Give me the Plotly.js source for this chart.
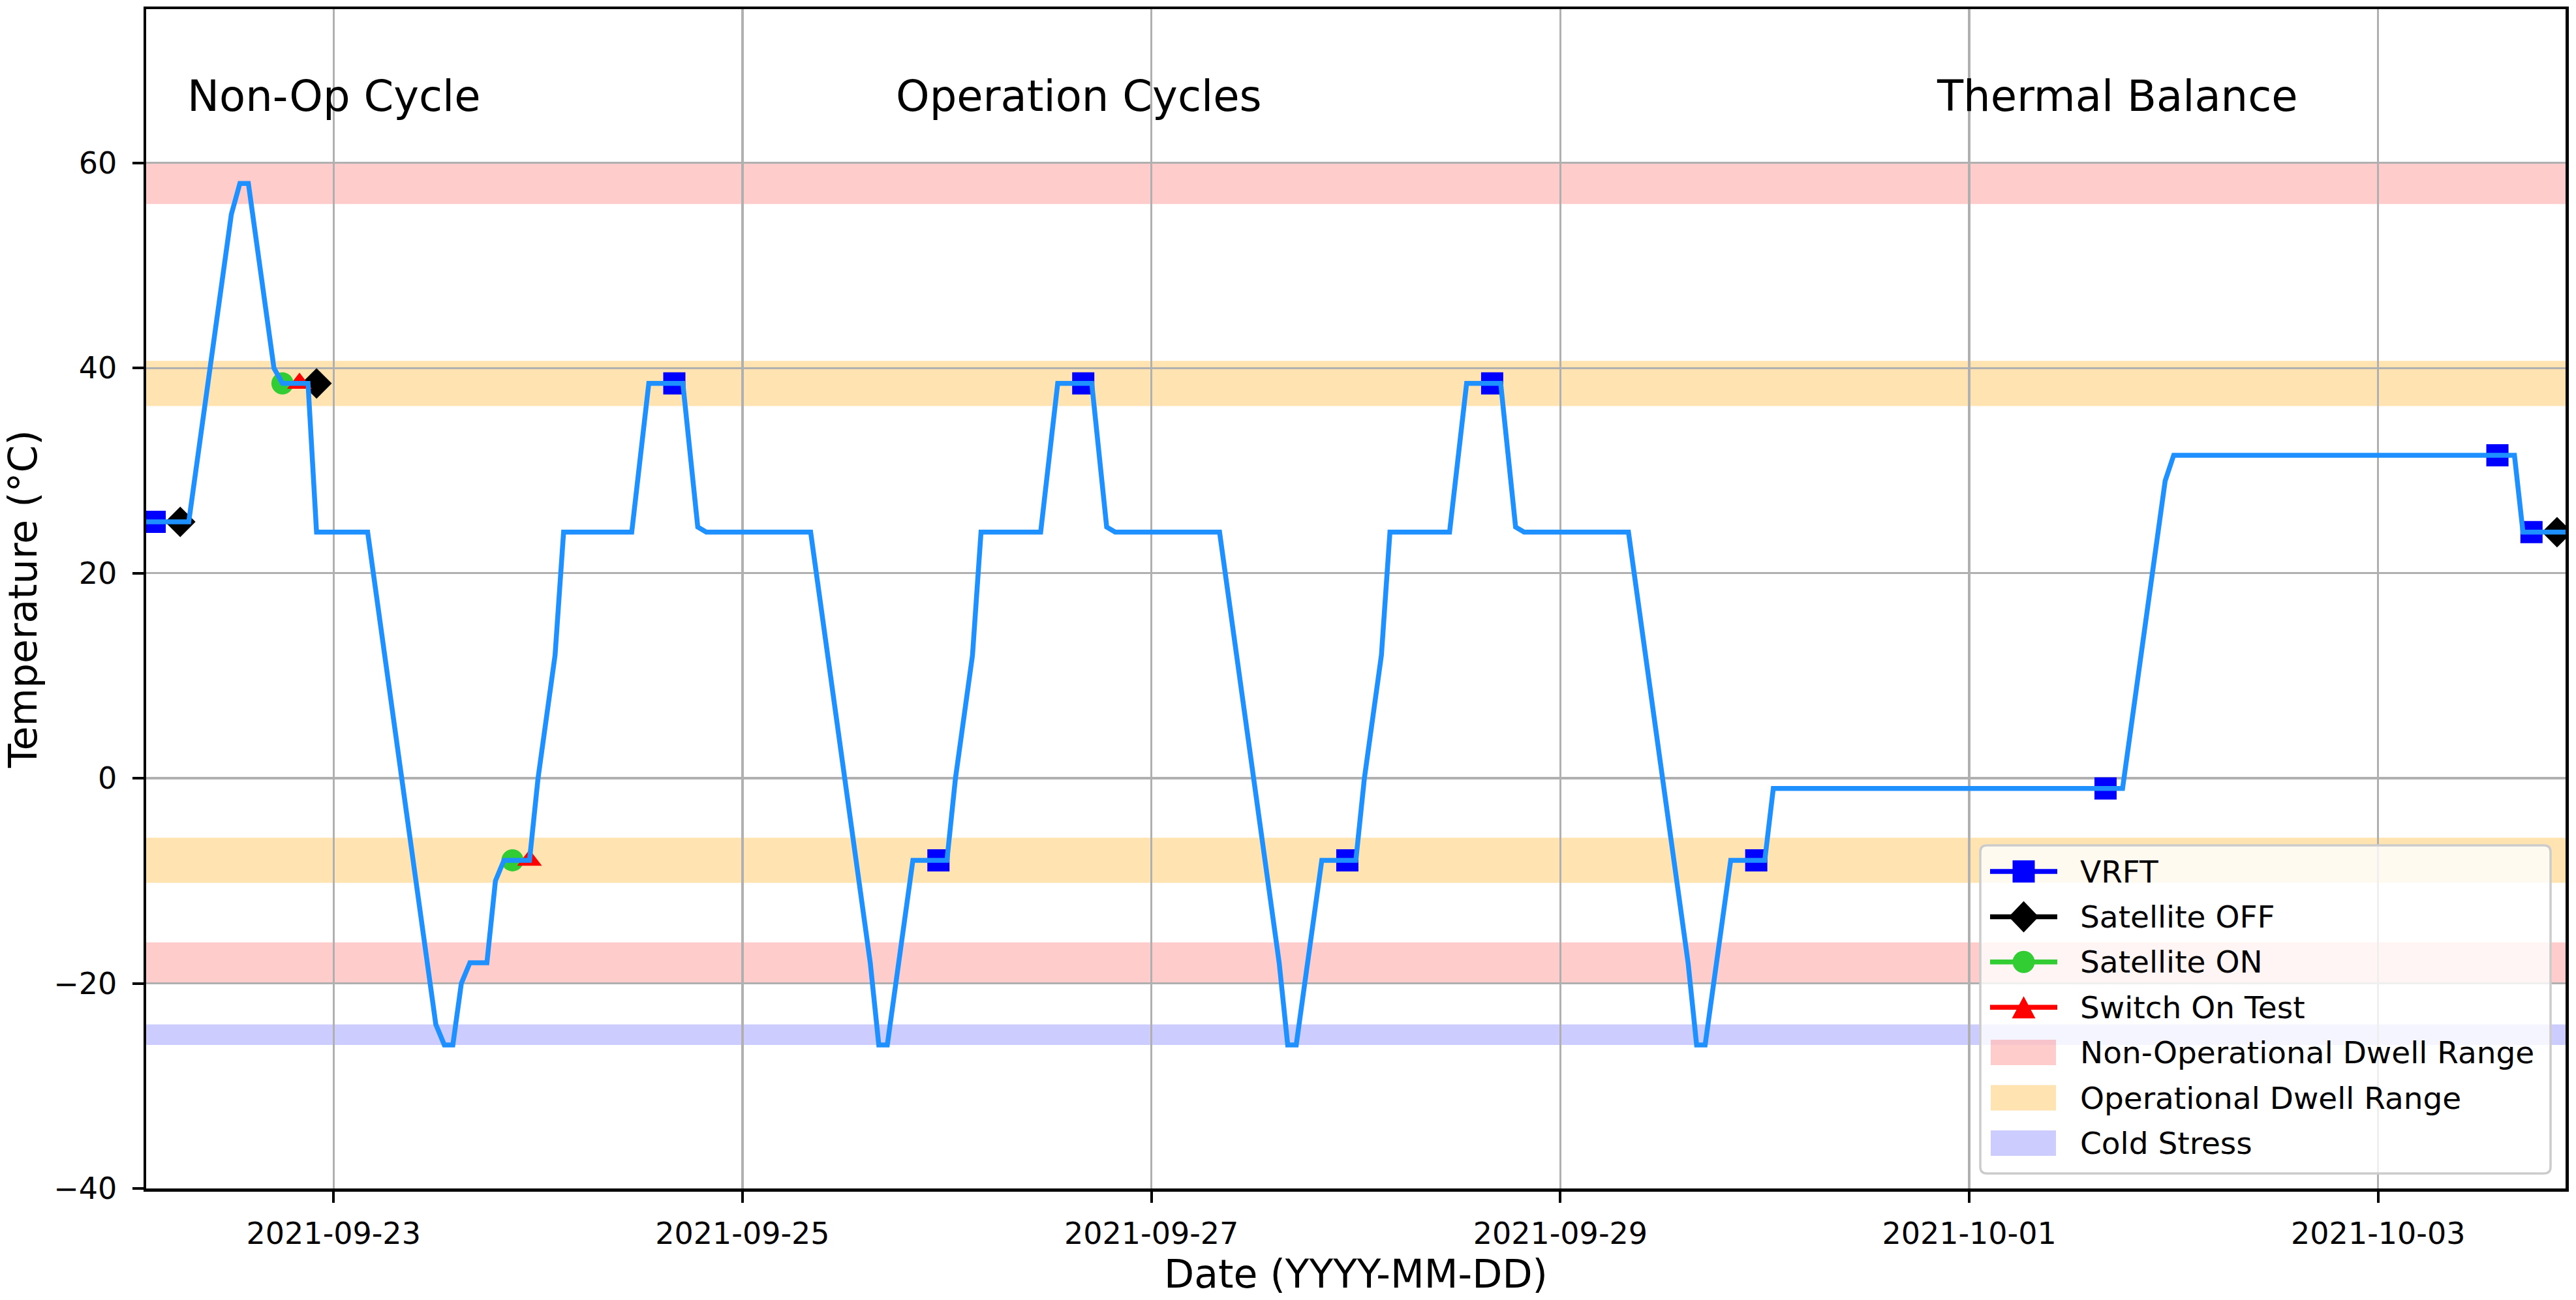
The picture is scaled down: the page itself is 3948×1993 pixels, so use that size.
<!DOCTYPE html>
<html>
<head>
<meta charset="utf-8">
<script src="https://cdn.plot.ly/plotly-3.0.1.min.js"></script>
<style>html,body{margin:0;padding:0;background:#fff;}#chart{width:3948px;height:1993px;}</style>
</head>
<body>
<div id="chart"></div>
<script>
// ---------- DATA ----------
const tempTimes = [
  '2021-09-22 02:00','2021-09-22 07:00','2021-09-22 12:00','2021-09-22 13:00','2021-09-22 14:00',
  '2021-09-22 17:00','2021-09-22 18:00','2021-09-22 21:00','2021-09-22 22:00','2021-09-23 04:00',
  '2021-09-23 12:00','2021-09-23 13:00','2021-09-23 14:00','2021-09-23 15:00','2021-09-23 16:00',
  '2021-09-23 18:00','2021-09-23 19:00','2021-09-23 20:00','2021-09-23 23:00','2021-09-24 00:00',
  '2021-09-24 02:00','2021-09-24 03:00','2021-09-24 11:00','2021-09-24 13:00','2021-09-24 17:00',
  '2021-09-24 18:45','2021-09-24 19:45','2021-09-25 08:00','2021-09-25 15:00','2021-09-25 16:00',
  '2021-09-25 17:00','2021-09-25 20:00','2021-09-26 00:00','2021-09-26 01:00','2021-09-26 03:00',
  '2021-09-26 04:00','2021-09-26 11:00','2021-09-26 13:00','2021-09-26 17:00','2021-09-26 18:45',
  '2021-09-26 19:45','2021-09-27 08:00','2021-09-27 15:00','2021-09-27 16:00','2021-09-27 17:00',
  '2021-09-27 20:00','2021-09-28 00:00','2021-09-28 01:00','2021-09-28 03:00','2021-09-28 04:00',
  '2021-09-28 11:00','2021-09-28 13:00','2021-09-28 17:00','2021-09-28 18:45','2021-09-28 19:45',
  '2021-09-29 08:00','2021-09-29 15:00','2021-09-29 16:00','2021-09-29 17:00','2021-09-29 20:00',
  '2021-09-30 00:00','2021-09-30 01:00','2021-10-01 18:00','2021-10-01 23:00','2021-10-02 00:00',
  '2021-10-03 16:00','2021-10-03 17:00','2021-10-03 22:00'
];
const tempValues = [
  25, 25, 55, 58, 58,
  40, 38.5, 38.5, 24, 24,
  -24, -26, -26, -20, -18,
  -18, -10, -8, -8, 0,
  12, 24, 24, 38.5, 38.5,
  24.5, 24, 24, -18, -26,
  -26, -8, -8, 0, 12,
  24, 24, 38.5, 38.5, 24.5,
  24, 24, -18, -26, -26,
  -8, -8, 0, 12, 24,
  24, 38.5, 38.5, 24.5, 24,
  24, -18, -26, -26, -8,
  -8, -1, -1, 29, 31.5,
  31.5, 24, 24
];

const vrftTimes = ['2021-09-22 03:00','2021-09-24 16:00','2021-09-25 23:00','2021-09-26 16:00','2021-09-27 23:00',
                   '2021-09-28 16:00','2021-09-29 23:00','2021-10-01 16:00','2021-10-03 14:00','2021-10-03 18:00'];
const vrftValues = [25, 38.5, -8, 38.5, -8, 38.5, -8, -1, 31.5, 24];

const satOffTimes = ['2021-09-22 06:00','2021-09-22 22:00','2021-10-03 21:00'];
const satOffValues = [25, 38.5, 24];

const satOnTimes = ['2021-09-22 18:00','2021-09-23 21:00'];
const satOnValues = [38.5, -8];

const switchTimes = ['2021-09-22 20:00','2021-09-23 23:00'];
const switchValues = [38.5, -8];

const nonOpBands = [[56, 60], [-20, -16]];
const opBands = [[36.3, 40.7], [-10.2, -5.8]];
const coldBands = [[-26, -24]];

const sectionLabels = ['Non-Op Cycle', 'Operation Cycles', 'Thermal Balance'];
const sectionTimes = ['2021-09-22 06:40', '2021-09-25 17:50', '2021-09-30 20:00'];
const sectionLevel = 65;

const xTickLabels = ['2021-09-23','2021-09-25','2021-09-27','2021-09-29','2021-10-01','2021-10-03'];
const yTickValues = [-40, -20, 0, 20, 40, 60];
const yTickLabels = ['\u221240', '\u221220', '0', '20', '40', '60'];

const legendLabels = ['VRFT','Satellite OFF','Satellite ON','Switch On Test',
                      'Non-Operational Dwell Range','Operational Dwell Range','Cold Stress'];

// ---------- STYLE ----------
const FONT = 'DejaVu Sans';
const C_LINE = '#1E90FF';
const C_NONOP = 'rgba(255,0,0,0.2)';
const C_OP = 'rgba(255,165,0,0.3)';
const C_COLD = 'rgba(0,0,255,0.2)';

const W = 3948, H = 1993;
const PL = 224, PR = 3932, PT = 14, PB = 1822;
const px = v => (v - PL) / (PR - PL);
const py = v => (PB - v) / (PB - PT);

const traces = [
  {x: vrftTimes, y: vrftValues, mode: 'markers', type: 'scatter', showlegend: false,
   marker: {symbol: 'square', size: 34, color: '#0000FF', line: {width: 0}}},
  {x: satOffTimes, y: satOffValues, mode: 'markers', type: 'scatter', showlegend: false,
   marker: {symbol: 'diamond', size: 36, color: '#000000', line: {width: 0}}},
  {x: satOnTimes, y: satOnValues, mode: 'markers', type: 'scatter', showlegend: false,
   marker: {symbol: 'circle', size: 34, color: '#32CD32', line: {width: 0}}},
  {x: switchTimes, y: switchValues, mode: 'markers', type: 'scatter', showlegend: false,
   marker: {symbol: 'triangle-up', size: 33, color: '#FF0000', line: {width: 0}}},
  {x: tempTimes, y: tempValues, mode: 'lines', type: 'scatter', showlegend: false,
   line: {color: C_LINE, width: 7.5}}
];

const shapes = [];
const addBands = (bands, color) => bands.forEach(b => shapes.push({
  type: 'rect', xref: 'paper', yref: 'y', x0: 0, x1: 1, y0: b[0], y1: b[1],
  fillcolor: color, line: {width: 0}, layer: 'below'}));
addBands(nonOpBands, C_NONOP);
addBands(opBands, C_OP);
addBands(coldBands, C_COLD);

// ---------- manual legend ----------
const LBX0 = 3035, LBX1 = 3909, LBY0 = 1296, LBY1 = 1799;
const hw = (LBX1 - LBX0) / 2, hh = (LBY1 - LBY0) / 2, rr = 10;
shapes.push({
  type: 'path', xref: 'paper', yref: 'paper', xsizemode: 'pixel', ysizemode: 'pixel',
  xanchor: px((LBX0 + LBX1) / 2), yanchor: py((LBY0 + LBY1) / 2),
  path: `M${-hw + rr},${-hh} L${hw - rr},${-hh} Q${hw},${-hh} ${hw},${-hh + rr} L${hw},${hh - rr} Q${hw},${hh} ${hw - rr},${hh} L${-hw + rr},${hh} Q${-hw},${hh} ${-hw},${hh - rr} L${-hw},${-hh + rr} Q${-hw},${-hh} ${-hw + rr},${-hh} Z`,
  fillcolor: 'rgba(255,255,255,0.8)', line: {color: '#cccccc', width: 3.5}, layer: 'above'
});
const ROW0 = 1336, ROWSTEP = 69.4, HX0 = 3050, HX1 = 3153, HXC = 3101.5, TX = 3186;
const legendColors = ['#0000FF', '#000000', '#32CD32', '#FF0000'];
const annotations = [];
legendLabels.forEach((lab, i) => {
  const ry = ROW0 + i * ROWSTEP;
  if (i < 4) {
    shapes.push({type: 'line', xref: 'paper', yref: 'paper', x0: px(HX0), x1: px(HX1), y0: py(ry), y1: py(ry),
                 line: {color: legendColors[i], width: 7.5}, layer: 'above'});
    const base = {xref: 'paper', yref: 'paper', xsizemode: 'pixel', ysizemode: 'pixel',
                  xanchor: px(HXC), yanchor: py(ry), fillcolor: legendColors[i], line: {width: 0}, layer: 'above'};
    if (i === 0) shapes.push(Object.assign({type: 'rect', x0: -17, x1: 17, y0: -17, y1: 17}, base));
    if (i === 1) shapes.push(Object.assign({type: 'path', path: 'M0,24 L23,0 L0,-24 L-23,0 Z'}, base));
    if (i === 2) shapes.push(Object.assign({type: 'circle', x0: -17, x1: 17, y0: -17, y1: 17}, base));
    if (i === 3) shapes.push(Object.assign({type: 'path', path: 'M0,17 L18,-17 L-18,-17 Z'}, base));
  } else {
    const col = [C_NONOP, C_OP, C_COLD][i - 4];
    shapes.push({type: 'rect', xref: 'paper', yref: 'paper', x0: px(HX0 + 1), x1: px(HX1 - 2),
                 y0: py(ry + 19.5), y1: py(ry - 19.5), fillcolor: col, line: {width: 0}, layer: 'above'});
  }
  annotations.push({xref: 'paper', yref: 'paper', x: px(TX), y: py(ry), xanchor: 'left', yanchor: 'middle',
                    text: lab, showarrow: false, font: {family: FONT, size: 47, color: '#000'}});
});

sectionLabels.forEach((lab, i) => annotations.push({
  xref: 'x', yref: 'y', x: sectionTimes[i], y: sectionLevel, xanchor: 'left', yanchor: 'bottom',
  yshift: -16, text: lab, showarrow: false, font: {family: FONT, size: 65.6, color: '#000'}
}));

const layout = {
  width: W, height: H,
  margin: {l: PL, r: W - PR, t: PT, b: H - PB, pad: 0},
  paper_bgcolor: '#ffffff', plot_bgcolor: '#ffffff',
  font: {family: FONT, color: '#000'},
  showlegend: false,
  xaxis: {
    type: 'date', range: ['2021-09-22 02:00', '2021-10-03 22:00'],
    tickmode: 'array', tickvals: xTickLabels, ticktext: xTickLabels,
    tickfont: {family: FONT, size: 46, color: '#000'},
    ticks: 'outside', ticklen: 17, tickwidth: 4, tickcolor: '#000',
    showline: true, linecolor: '#000', linewidth: 4.5, mirror: true,
    showgrid: true, gridcolor: '#b0b0b0', gridwidth: 3.3, zeroline: false,
    ticklabelstandoff: 8,
    title: {text: 'Date (YYYY-MM-DD)', font: {family: FONT, size: 60, color: '#000'}, standoff: 10},
    automargin: false
  },
  yaxis: {
    range: [-40, 75],
    tickmode: 'array', tickvals: yTickValues, ticktext: yTickLabels,
    tickfont: {family: FONT, size: 46, color: '#000'},
    ticks: 'outside', ticklen: 17, tickwidth: 4, tickcolor: '#000',
    showline: true, linecolor: '#000', linewidth: 4.5, mirror: true,
    showgrid: true, gridcolor: '#b0b0b0', gridwidth: 3.3, zeroline: false,
    ticklabelstandoff: 14,
    title: {text: 'Temperature (\u00B0C)', font: {family: FONT, size: 60, color: '#000'}, standoff: 23},
    automargin: false
  },
  shapes: shapes,
  annotations: annotations
};

Plotly.newPlot('chart', traces, layout, {displayModeBar: false, staticPlot: true});
</script>
</body>
</html>
